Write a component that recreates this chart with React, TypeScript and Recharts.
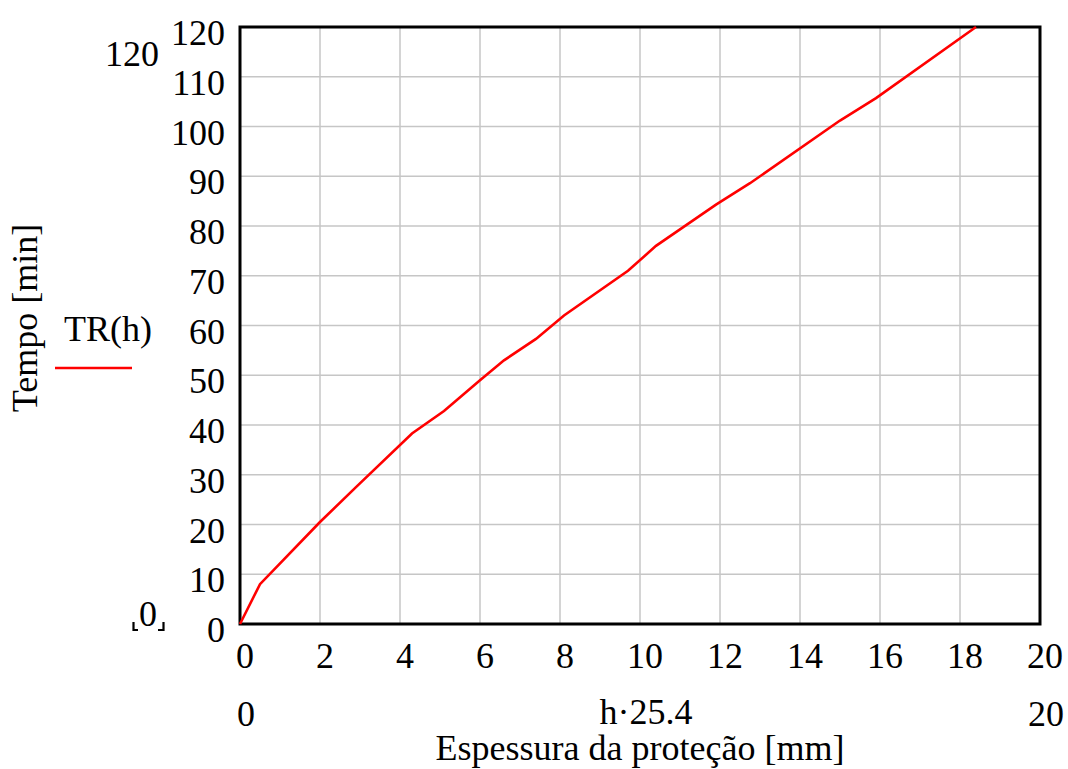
import React from 'react';
import { LineChart, Line, XAxis, YAxis, CartesianGrid, ReferenceArea } from 'recharts';

const thickness = [0, 0.5, 2, 2.9, 4.3, 5.1, 6.0, 6.6, 7.4, 8.1, 9.7, 10.4, 11.9, 12.75, 15.0, 15.9, 18.4];
const tempo = [0, 8, 20.5, 27.5, 38.3, 42.8, 49, 53, 57.3, 62, 71, 76, 84.3, 88.6, 101.2, 105.7, 120];
const xTicks = [0, 2, 4, 6, 8, 10, 12, 14, 16, 18, 20];
const yTicks = [0, 10, 20, 30, 40, 50, 60, 70, 80, 90, 100, 110, 120];
const xLimits = [0, 20];
const seriesName = 'TR(h)';
const xExpr = 'h·25.4';
const xTitle = 'Espessura da proteção [mm]';
const yTitle = 'Tempo [min]';

const data = thickness.map((x, i) => ({ x, y: tempo[i] }));

const FONT = '"Liberation Serif", "Times New Roman", serif';
const FS = 36;

const YTick = (p: any) => (
  <text x={p.x} y={p.y} dy={18} textAnchor="end" fontFamily={FONT} fontSize={FS} fill="#000">
    {p.payload.value}
  </text>
);
const XTick = (p: any) => (
  <text x={p.x} y={p.y} dx={5} dy={44} textAnchor="middle" fontFamily={FONT} fontSize={FS} fill="#000">
    {p.payload.value}
  </text>
);
const XTick2 = (p: any) => (
  <text x={p.x} y={p.y} dx={6} dy={46} textAnchor="middle" fontFamily={FONT} fontSize={FS} fill="#000">
    {p.payload.value}
  </text>
);

export default function App() {
  return (
    <div style={{ position: 'absolute', left: 0, top: 0, width: 1068, height: 769, background: '#fff' }}>
      <LineChart width={1068} height={769} data={data} margin={{ top: 27, right: 28, bottom: 0, left: 0 }}>
        <CartesianGrid stroke="#c6c6c6" strokeWidth={1.5} />
        <XAxis
          dataKey="x"
          type="number"
          domain={[0, 20]}
          ticks={xTicks}
          interval={0}
          axisLine={false}
          tickLine={false}
          tickSize={0}
          tickMargin={0}
          height={56}
          tick={<XTick />}
        />
        <XAxis
          xAxisId="row2"
          dataKey="x"
          type="number"
          domain={[0, 20]}
          allowDataOverflow
          ticks={xLimits}
          interval={0}
          axisLine={false}
          tickLine={false}
          tickSize={0}
          tickMargin={0}
          height={89}
          tick={<XTick2 />}
        />
        <YAxis
          type="number"
          domain={[0, 120]}
          ticks={yTicks}
          interval={0}
          axisLine={false}
          tickLine={false}
          tickSize={0}
          tickMargin={15}
          width={240}
          tick={<YTick />}
        />
        <ReferenceArea x1={0} x2={20} y1={0} y2={120} fill="none" fillOpacity={0} stroke="#000" strokeWidth={3} ifOverflow="visible" />
        <Line
          type="linear"
          dataKey="y"
          stroke="#ff0000"
          strokeWidth={2.6}
          dot={false}
          activeDot={false}
          isAnimationActive={false}
        />
      </LineChart>
      <svg width={1068} height={769} style={{ position: 'absolute', left: 0, top: 0, pointerEvents: 'none' }}>
        <g fontFamily={FONT} fontSize={FS} fill="#000">
          <text x={132} y={66} textAnchor="middle">120</text>
          <text x={148} y={626} textAnchor="middle">0</text>
          <text x={108} y={341} textAnchor="middle">{seriesName}</text>
          <text x={646} y={724} textAnchor="middle">{xExpr}</text>
          <text x={640} y={760} textAnchor="middle">{xTitle}</text>
          <text x={37} y={318} textAnchor="middle" transform="rotate(-90 37 318)">{yTitle}</text>
        </g>
        <line x1={55} y1={368} x2={132} y2={368} stroke="#ff0000" strokeWidth={2.4} />
        <path d="M133.5 622 V630 H138" fill="none" stroke="#000" strokeWidth={2.2} />
        <path d="M163.5 622 V630 H158" fill="none" stroke="#000" strokeWidth={2.2} />
      </svg>
    </div>
  );
}
